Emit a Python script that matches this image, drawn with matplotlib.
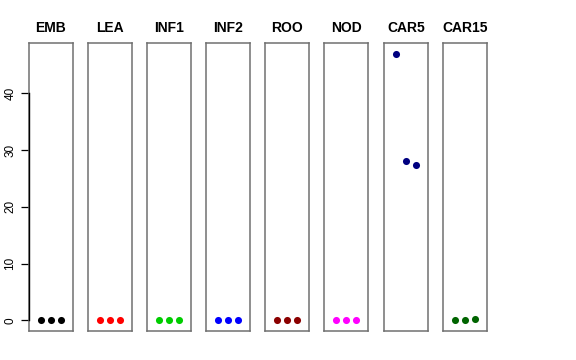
import matplotlib
matplotlib.use('Agg')
from matplotlib import pyplot as plt

plt.rcParams['font.family'] = ['Liberation Sans', 'DejaVu Sans']

# one small panel per tissue, three replicates each
tissues = ['EMB', 'LEA', 'INF1', 'INF2', 'ROO', 'NOD', 'CAR5', 'CAR15']
colors = ['black', 'red', '#00CD00', 'blue', '#8B0000', 'magenta', '#000080', '#006400']
reps = [1, 2, 3]
values = [
    [0, 0, 0],
    [0, 0, 0],
    [0, 0, 0],
    [0, 0.12, 0.05],
    [0, 0, 0],
    [0, 0, 0],
    [47.0, 28.1, 27.3],
    [0, 0.05, 0.15],
]
y_ticks = [0, 10, 20, 30, 40]

W, H = 576, 360
fig = plt.figure(figsize=(W / 100, H / 100), dpi=100)

lefts = [29, 88, 147, 206, 265, 324, 384, 443]
pw = 44
top, bottom = 43, 331

for i, (name, col, vals) in enumerate(zip(tissues, colors, values)):
    ax = fig.add_axes([lefts[i] / W, (H - bottom) / H, pw / W, (bottom - top) / H])
    ax.scatter(reps, vals, s=26, color=col, zorder=3, linewidths=0)
    ax.set_xlim(-0.16, 4.16)
    ax.set_ylim(-1.88, 48.88)
    ax.set_xticks([])
    for s in ax.spines.values():
        s.set_color('#707070')
        s.set_linewidth(1.1)
    ax.set_title(name, fontsize=10, fontweight='bold', pad=8)
    if i == 0:
        ax.set_yticks(y_ticks)
        ax.set_yticklabels([str(t) for t in y_ticks], rotation=90, va='center', fontsize=8.5)
        ax.tick_params(axis='y', length=6, width=0.9, pad=3)
        ax.plot([-0.16, -0.16], [0, 40], color='black', lw=1.0, clip_on=False, zorder=4)
    else:
        ax.set_yticks([])

fig.savefig('out.png', dpi=100)
